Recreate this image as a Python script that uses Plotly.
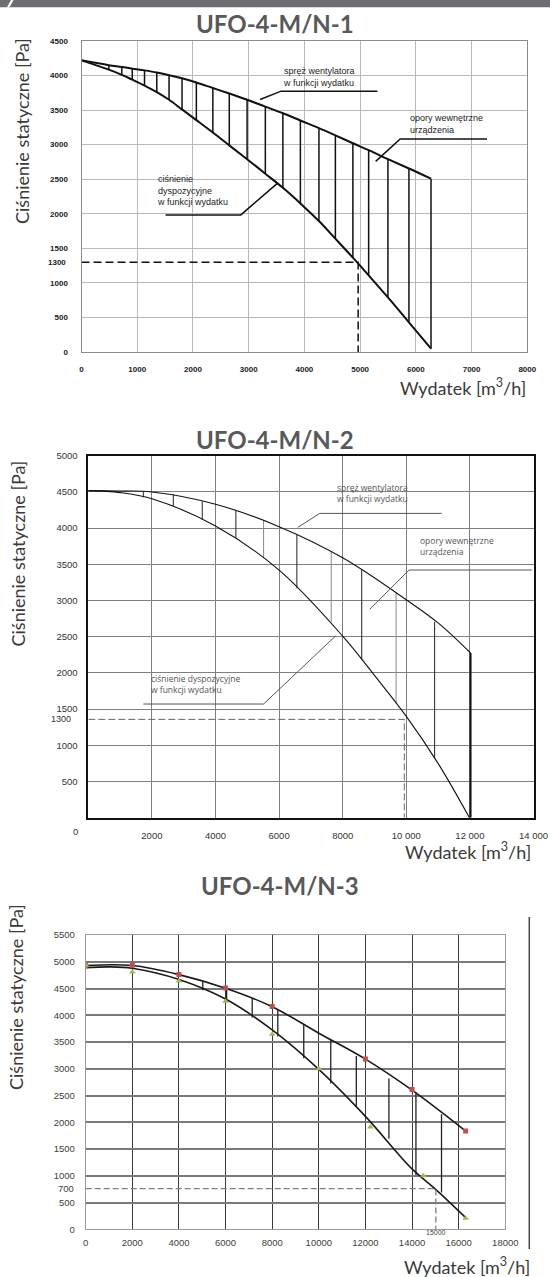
import plotly.graph_objects as go

W, H = 550, 1277

# ---------------- Chart 1: UFO-4-M/N-1 ----------------
c1_title = "UFO-4-M/N-1"
c1_xticks = [0, 1000, 2000, 3000, 4000, 5000, 6000, 7000, 8000]
c1_yticks = [0, 500, 1000, 1500, 2000, 2500, 3000, 3500, 4000, 4500]
c1_start_x = [0]
c1_start_y = [4220]
c1_hatch_x = [490, 723, 911, 1131, 1351, 1571, 1804, 2061, 2357, 2652, 2972,
              3299, 3614, 3928, 4261, 4556, 4870, 5153, 5499, 5876, 6272]
c1_hatch_top = [4150, 4125, 4100, 4075, 4045, 4005, 3960, 3900, 3820, 3740, 3650,
                3550, 3455, 3350, 3240, 3135, 3020, 2920, 2790, 2655, 2508]
c1_hatch_bot = [4085, 4010, 3940, 3855, 3760, 3650, 3510, 3355, 3175, 2990, 2790,
                2580, 2375, 2150, 1895, 1640, 1365, 1110, 790, 430, 48]
c1_op_x = 4965
c1_op_y = 1300
c1_lead_spr_x = [3205, 3582, 5310]
c1_lead_spr_y = [3653, 3774, 3774]
c1_lead_opo_x = [5279, 5719, 7277]
c1_lead_opo_y = [2758, 3082, 3082]
c1_lead_cis_x = [1508, 2859, 3519]
c1_lead_cis_y = [1984, 1984, 2444]

# ---------------- Chart 2: UFO-4-M/N-2 ----------------
c2_title = "UFO-4-M/N-2"
c2_xticks = [2000, 4000, 6000, 8000, 10000, 12000, 14000]
c2_xticktext = ["2000", "4000", "6000", "8000", "10 000", "12 000", "14 000"]
c2_yticks = [500, 1000, 1500, 2000, 2500, 3000, 3500, 4000, 4500, 5000]
c2_up_x = [0, 1000, 2000, 4000, 6000, 8000, 10000, 11000, 12020]
c2_up_y = [4517, 4512, 4499, 4330, 4020, 3590, 3010, 2690, 2275]
c2_lo_x = [0, 1000, 2000, 4000, 6000, 8000, 9000, 10000, 11000, 11985]
c2_lo_y = [4517, 4490, 4406, 4029, 3420, 2508, 1965, 1400, 750, 0]
c2_hatch_x = [1730, 2673, 3583, 4641, 5512, 6559, 7639, 8598, 9679, 10891, 12020]
c2_hatch_top = [4500, 4465, 4370, 4245, 4098, 3913, 3688, 3421, 3108, 2707, 2275]
c2_hatch_bot = [4425, 4305, 4120, 3867, 3596, 3168, 2707, 2178, 1579, 820, 0]
c2_op_x = 9937
c2_op_y = 1358
c2_lead_spr_x = [6592, 7276, 11112]
c2_lead_spr_y = [4010, 4203, 4203]
c2_lead_opo_x = [8852, 10087, 13945]
c2_lead_opo_y = [2878, 3421, 3421]
c2_lead_cis_x = [1731, 5512, 7772]
c2_lead_cis_y = [1570, 1570, 2509]

# ---------------- Chart 3: UFO-4-M/N-3 ----------------
c3_title = "UFO-4-M/N-3"
c3_xticks = [0, 2000, 4000, 6000, 8000, 10000, 12000, 14000, 16000, 18000]
c3_xticktext = ["0", "2000", "4000", "6000", "8000", "10000", "12000", "14000", "16000", "18000"]
c3_yticks = [0, 500, 1000, 1500, 2000, 2500, 3000, 3500, 4000, 4500, 5000, 5500]
c3_up_x = [0, 2000, 4000, 6000, 8000, 10000, 12000, 14000, 16300]
c3_up_y = [4930, 4930, 4760, 4505, 4160, 3665, 3180, 2600, 1836]
c3_lo_x = [0, 1000, 2000, 4000, 6000, 8000, 10000, 12000, 14000, 15000, 16300]
c3_lo_y = [4890, 4905, 4880, 4670, 4304, 3727, 2988, 2110, 1128, 752, 219]
c3_sq_x = [0, 2000, 4000, 6000, 8000, 12000, 14000, 16300]
c3_sq_y = [4930, 4934, 4761, 4510, 4166, 3182, 2612, 1836]
c3_tri_x = [0, 2000, 4000, 6000, 8000, 10000, 12213, 14484, 16300]
c3_tri_y = [4940, 4809, 4640, 4260, 3646, 3001, 1911, 1002, 207]
c3_hatch_x = [5023, 6045, 7143, 8241, 9354, 10512, 11609, 13008, 14166, 15264]
c3_hatch_top = [4636, 4498, 4322, 4103, 3834, 3539, 3239, 2819, 2556, 2149]
c3_hatch_bot = [4466, 4260, 3959, 3602, 3195, 2725, 2287, 1691, 1015, 689]
c3_op_x = 15020
c3_op_y = 760

y_title = "Ciśnienie statyczne [Pa]"
x_title = "Wydatek [m<sup>3</sup>/h]"


def pxx(p):
    return p / W


def pxy(p):
    return 1 - p / H


fig = go.Figure()


def line(x, y, xa, ya, color, width, dash=None, shape="linear"):
    fig.add_trace(go.Scatter(
        x=x, y=y, mode="lines", xaxis=xa, yaxis=ya,
        line=dict(color=color, width=width, dash=dash, shape=shape),
        hoverinfo="skip", showlegend=False))


def hatch(xs, tops, bots, xa, ya, color, width):
    hx, hy = [], []
    for x, t, b in zip(xs, tops, bots):
        hx += [x, x, None]
        hy += [t, b, None]
    line(hx, hy, xa, ya, color, width)


# ---- chart 1 traces
hatch(c1_hatch_x, c1_hatch_top, c1_hatch_bot, "x", "y", "#111", 1.5)
line(c1_start_x + c1_hatch_x, c1_start_y + c1_hatch_top, "x", "y", "#111", 2, shape="spline")
line(c1_start_x + c1_hatch_x, c1_start_y + c1_hatch_bot, "x", "y", "#111", 2, shape="spline")
line([0, c1_op_x, c1_op_x], [c1_op_y, c1_op_y, 0], "x", "y", "#111", 1.5, dash="8px,4px")
for lx, ly in [(c1_lead_spr_x, c1_lead_spr_y), (c1_lead_opo_x, c1_lead_opo_y),
               (c1_lead_cis_x, c1_lead_cis_y)]:
    line(lx, ly, "x", "y", "#111", 1.5)

# ---- chart 2 traces
c2_hatch_colors = ["#222", "#222", "#222", "#222", "#888", "#222", "#888", "#222", "#888", "#222", "#111"]
for i, (x, t, b) in enumerate(zip(c2_hatch_x, c2_hatch_top, c2_hatch_bot)):
    line([x, x], [t, b], "x2", "y2", c2_hatch_colors[i], 2 if i == len(c2_hatch_x) - 1 else 1)
line(c2_up_x, c2_up_y, "x2", "y2", "#111", 1.1, shape="spline")
line(c2_lo_x, c2_lo_y, "x2", "y2", "#111", 1.1, shape="spline")
line([0, c2_op_x, c2_op_x], [c2_op_y, c2_op_y, 0], "x2", "y2", "#666", 1, dash="7px,3px")
for lx, ly in [(c2_lead_spr_x, c2_lead_spr_y), (c2_lead_opo_x, c2_lead_opo_y),
               (c2_lead_cis_x, c2_lead_cis_y)]:
    line(lx, ly, "x2", "y2", "#555", 1)

# ---- chart 3 traces
hatch(c3_hatch_x, c3_hatch_top, c3_hatch_bot, "x3", "y3", "#222", 1.3)
line(c3_up_x, c3_up_y, "x3", "y3", "#1a1a1a", 1.6, shape="spline")
line(c3_lo_x, c3_lo_y, "x3", "y3", "#1a1a1a", 1.6, shape="spline")
line([0, c3_op_x, c3_op_x], [c3_op_y, c3_op_y, 0], "x3", "y3", "#808080", 1.3, dash="6px,3px")
fig.add_trace(go.Scatter(x=c3_sq_x, y=c3_sq_y, mode="markers", xaxis="x3", yaxis="y3",
                         marker=dict(symbol="square", size=5, color="#c0504d"),
                         hoverinfo="skip", showlegend=False))
fig.add_trace(go.Scatter(x=c3_tri_x, y=c3_tri_y, mode="markers", xaxis="x3", yaxis="y3",
                         marker=dict(symbol="triangle-up", size=6, color="#9bbb59"),
                         hoverinfo="skip", showlegend=False))

# ---- axes
f1 = dict(family="Liberation Sans, Arial", size=8, color="#1a1a1a", weight="bold")
f2 = dict(family="Liberation Sans, Arial", size=9.5, color="#333")
f3 = dict(family="Liberation Sans, Arial", size=9.5, color="#404040")

common = dict(zeroline=False, ticks="", showline=True, mirror=True, fixedrange=True,
              showgrid=True, automargin=False)

fig.update_layout(
    width=W, height=H, margin=dict(l=0, r=0, t=0, b=0, pad=0, autoexpand=False),
    paper_bgcolor="white", plot_bgcolor="white", showlegend=False,
    xaxis=dict(domain=[pxx(81.5), pxx(527.3)], range=[0, 8000], tickvals=c1_xticks,
               anchor="y", gridcolor="#b8b8b8", gridwidth=1, linecolor="#8a8a8a",
               linewidth=1, tickfont=f1, ticklabelstandoff=9, **common),
    yaxis=dict(domain=[pxy(352), pxy(41)], range=[0, 4500], tickvals=c1_yticks,
               anchor="x", gridcolor="#b8b8b8", gridwidth=1, linecolor="#8a8a8a",
               linewidth=1, tickfont=f1, ticklabelstandoff=11, **common),
    xaxis2=dict(domain=[pxx(88.3), pxx(533.5)], range=[0, 14000], tickvals=c2_xticks,
                ticktext=c2_xticktext, anchor="y2", gridcolor="#7f7f7f", gridwidth=1,
                linecolor="#111", linewidth=1.5, tickfont=f2, ticklabelstandoff=8, **common),
    yaxis2=dict(domain=[pxy(817.7), pxy(455.7)], range=[0, 5000], tickvals=c2_yticks,
                anchor="x2", gridcolor="#7f7f7f", gridwidth=1.2,
                linecolor="#111", linewidth=1.5, tickfont=f2, ticklabelstandoff=7, **common),
    xaxis3=dict(domain=[pxx(85.7), pxx(505.3)], range=[0, 18000], tickvals=c3_xticks,
                ticktext=c3_xticktext, anchor="y3", gridcolor="#3a3a3a", gridwidth=1,
                linecolor="#9a9a9a", linewidth=1, tickfont=f3, ticklabelstandoff=4, **common),
    yaxis3=dict(domain=[pxy(1229.3), pxy(935)], range=[0, 5500], tickvals=c3_yticks,
                anchor="x3", gridcolor="#7a7a7a", gridwidth=1.6,
                linecolor="#9a9a9a", linewidth=1, tickfont=f3, ticklabelstandoff=8, **common),
)

ann = []
title_font = dict(family="Lato, Noto Sans", size=24, color="#58595b", weight="bold")
axis_font = dict(family="Lato, Noto Sans", size=18, color="#3a3a3a")
for t, cx, cy in [(c1_title, 275, 23), (c2_title, 275, 440), (c3_title, 279.7, 885)]:
    ann.append(dict(text=t, x=pxx(cx), y=pxy(cy), xref="paper", yref="paper",
                    xanchor="center", yanchor="middle", showarrow=False, font=title_font))
for cx, cy in [(22, 131), (17.5, 554), (16, 997)]:
    ann.append(dict(text=y_title, x=pxx(cx), y=pxy(cy), xref="paper", yref="paper",
                    xanchor="center", yanchor="middle", textangle=-90, showarrow=False,
                    font=axis_font))
for rx, cy in [(528, 387), (533, 851), (532, 1266)]:
    ann.append(dict(text=x_title, x=pxx(rx), y=pxy(cy), xref="paper", yref="paper",
                    xanchor="right", yanchor="middle", showarrow=False, font=axis_font))

# special tick labels
ann.append(dict(text="1300", x=pxx(68), y=c1_op_y, xref="paper", yref="y", xanchor="right",
                yanchor="middle", showarrow=False, font=f1))
ann.append(dict(text="1300", x=pxx(73), y=c2_op_y, xref="paper", yref="y2", xanchor="right",
                yanchor="middle", showarrow=False,
                font=dict(family="Liberation Sans, Arial", size=9, color="#333")))
ann.append(dict(text="0", x=pxx(75.3), y=pxy(831), xref="paper", yref="paper", xanchor="center",
                yanchor="middle", showarrow=False, font=f2))
ann.append(dict(text="700", x=pxx(76), y=c3_op_y, xref="paper", yref="y3", xanchor="right",
                yanchor="middle", showarrow=False, font=f3))
ann.append(dict(text="15000", x=c3_op_x, y=pxy(1232), xref="x3", yref="paper", xanchor="center",
                yanchor="middle", showarrow=False,
                font=dict(family="Liberation Sans, Arial", size=7, color="#444")))

# chart labels
lf1 = dict(family="Liberation Sans, Arial", size=9, color="#222")
lf2 = dict(family="Open Sans, Liberation Sans", size=8.5, color="#555")
for t, x, y in [("spręż wentylatora<br>w funkcji wydatku", 3582, 3977),
                ("opory wewnętrzne<br>urządzenia", 5862, 3305),
                ("ciśnienie<br>dyspozycyjne<br>w funkcji wydatku", 1320, 2337)]:
    ann.append(dict(text=t, x=x, y=y, xref="x", yref="y", xanchor="left", yanchor="middle",
                    align="left", showarrow=False, font=lf1))
for t, x, y in [("spręż wentylatora<br>w funkcji wydatku", 7772, 4480),
                ("opory wewnętrzne<br>urządzenia", 10362, 3748),
                ("ciśnienie dyspozycyjne<br>w funkcji wydatku", 1896, 1851)]:
    ann.append(dict(text=t, x=x, y=y, xref="x2", yref="y2", xanchor="left", yanchor="middle",
                    align="left", showarrow=False, font=lf2))

fig.update_layout(annotations=ann)

shapes = [
    dict(type="rect", xref="paper", yref="paper", x0=0, x1=1, y0=pxy(7.3), y1=1,
         fillcolor="#6d6e71", line=dict(width=0), layer="above"),
    dict(type="path", xref="paper", yref="paper",
         path=f"M {pxx(7)},{pxy(7.3)} L {pxx(9.5)},{pxy(7.3)} L {pxx(13.5)},1 L {pxx(11)},1 Z",
         fillcolor="white", line=dict(width=0), layer="above"),
    dict(type="line", xref="paper", yref="paper", x0=pxx(529.3), x1=pxx(529.3),
         y0=pxy(1249), y1=pxy(917), line=dict(color="#444", width=1.5)),
]
fig.update_layout(shapes=shapes)

page_fix = (
    "var de=document.documentElement, b=document.body;"
    "[de,b].forEach(function(e){e.style.margin='0';e.style.padding='0';"
    "e.style.width='550px';e.style.height='1277px';e.style.overflow='hidden';});"
    "var g=document.querySelector('.plotly-graph-div');"
    "if(g){g.style.position='absolute';g.style.left='0';g.style.top='0';}"
)

fig.write_html("out.html", config={"displayModeBar": False}, post_script=page_fix)
